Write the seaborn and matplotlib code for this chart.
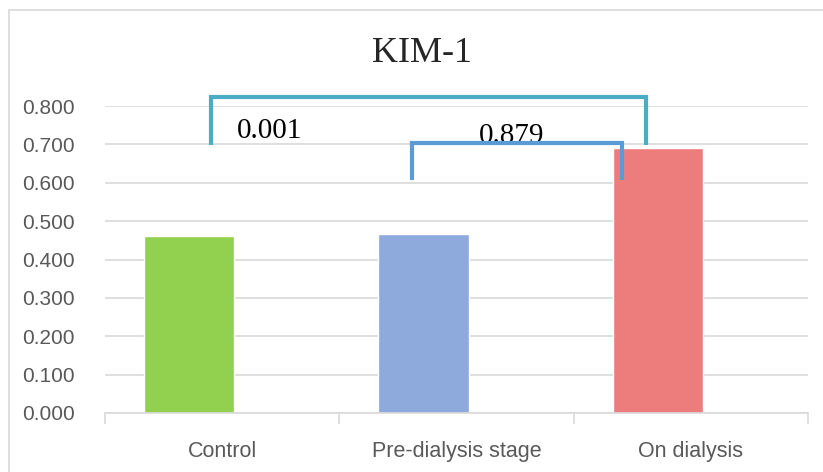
import matplotlib
matplotlib.use("Agg")
import matplotlib.pyplot as plt
import seaborn as sns
import pandas as pd
from matplotlib.patches import Rectangle

categories = ["Control", "Pre-dialysis stage", "On dialysis"]
values = [0.461, 0.466, 0.690]
bar_colors = ["#92D050", "#8EA9DB", "#ED7D7D"]
yticks = [0.0, 0.1, 0.2, 0.3, 0.4, 0.5, 0.6, 0.7, 0.8]
title = "KIM-1"
p_labels = ["0.001", "0.879"]

sns.set_theme(style="white")
plt.rcParams["font.family"] = ["Liberation Sans", "DejaVu Sans"]

df = pd.DataFrame({"group": categories, "value": values})

fig = plt.figure(figsize=(8.23, 4.72), dpi=100)
ax = fig.add_axes([105 / 823, 1 - 413 / 472, (808 - 105) / 823, (413 - 106) / 472])

sns.barplot(data=df, x="group", y="value", hue="group", palette=bar_colors,
            width=0.385, legend=False, ax=ax, saturation=1)

# bars sit left of the category centre (as in the original chart)
bar_offset = 0.141
for p in ax.patches:
    p.set_x(p.get_x() - bar_offset)

ax.set_ylim(0, 0.8)
ax.set_xlim(-0.5, 2.5)
ax.set_yticks(yticks)
ax.set_yticklabels([f"{t:.3f}" for t in yticks])
ax.yaxis.grid(True, color="#D9D9D9", linewidth=1.2)
ax.set_axisbelow(True)
for s in ["top", "right", "left"]:
    ax.spines[s].set_visible(False)
ax.spines["bottom"].set_color("#D9D9D9")
ax.spines["bottom"].set_linewidth(1.2)
ax.set_xlabel("")
ax.set_ylabel("")

# category boundary ticks
ax.set_xticks([-0.5, 0.5, 1.5, 2.5], minor=True)
ax.tick_params(axis="x", which="minor", length=8, width=1.2, color="#D9D9D9", bottom=True)
ax.tick_params(axis="x", which="major", length=0, pad=20, labelsize=15.5, labelcolor="#595959")
ax.tick_params(axis="y", length=0, pad=22, labelsize=15, labelcolor="#595959")

fig.text(422 / 823, 1 - 54 / 472, title, ha="center", va="center",
         fontsize=26, family="Liberation Serif", color="#262626")

# significance brackets
ax.text(0.204, 0.735, p_labels[0], ha="center", va="center", fontsize=21,
        family="Liberation Serif", color="black", zorder=4)
ax.text(1.237, 0.722, p_labels[1], ha="center", va="center", fontsize=21,
        family="Liberation Serif", color="black", zorder=4)
big = dict(color="#4BACC6", lw=3, clip_on=False, solid_capstyle="butt",
           solid_joinstyle="miter", zorder=5)
ax.plot([-0.048, -0.048, 1.809, 1.809], [0.698, 0.8234, 0.8234, 0.698], **big)
small = dict(color="#5B9BD5", lw=3, clip_on=False, solid_capstyle="butt",
             solid_joinstyle="miter", zorder=5)
ax.plot([0.81, 0.81, 1.707, 1.707], [0.607, 0.7036, 0.7036, 0.607], **small)

fig.patches.append(Rectangle((9 / 823, -0.01), 1, 1 - 10 / 472 + 0.01,
                             transform=fig.transFigure, fill=False,
                             edgecolor="#D9D9D9", linewidth=1.2))

fig.savefig("out.png", dpi=100)
